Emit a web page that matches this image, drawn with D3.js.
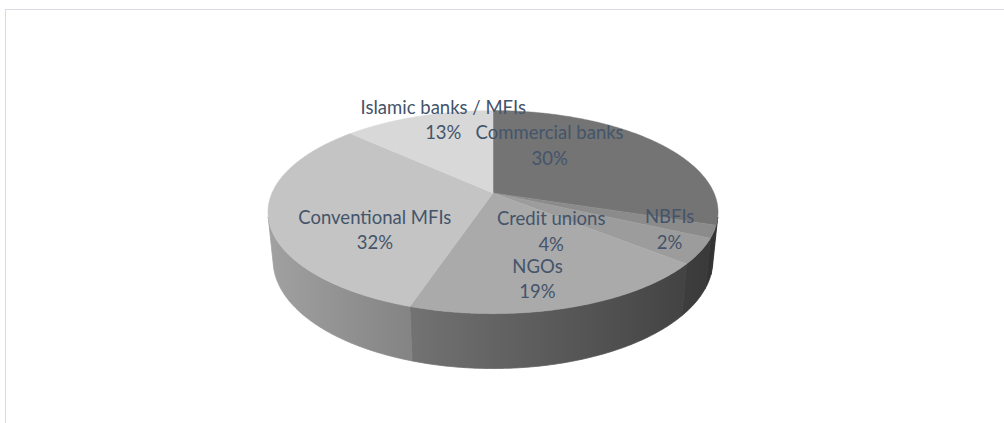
<!DOCTYPE html>
<html>
<head>
<meta charset="utf-8">
<script src="https://cdn.jsdelivr.net/npm/d3@7"></script>
<style>
  body { margin: 0; background: #fff; }
  svg { display: block; }
</style>
</head>
<body>
<script>
// data
const categories = ['Commercial banks', 'NBFIs', 'Credit unions', 'NGOs', 'Conventional MFIs', 'Islamic banks / MFIs'];
const shares = [30, 2, 4, 19, 32, 13];
const pctLabels = ['30%', '2%', '4%', '19%', '32%', '13%'];
const topColors = ['#747474', '#8b8b8b', '#9c9c9c', '#aaaaaa', '#c4c4c4', '#d8d8d8'];
// label nudges (px) from the projected slice middle, like dragged labels in the original
const labelNudge = [[-44, -15], [48, 14], [-61, 5], [3, 23], [14, 22], [-2, -24]];

const width = 1004, height = 423;

const svg = d3.select('body').append('svg')
  .attr('width', width)
  .attr('height', height);

// chart area border (runs off the right/bottom edge)
svg.append('rect')
  .attr('x', 5.5).attr('y', 9.5)
  .attr('width', width + 20).attr('height', height + 20)
  .attr('fill', 'none')
  .attr('stroke', '#d9dde3')
  .attr('stroke-width', 1);

// simple perspective camera for the 3D pie
const hub = { x: 493, y: 193 };
const tilt = 26.3 * Math.PI / 180;
const cosT = Math.cos(tilt), sinT = Math.sin(tilt);
const dist = 4.76;     // camera distance in pie radii
const focal = 1052;    // px
const depth = 0.245;   // thickness in pie radii

function project(theta, r, yy) {
  const X = r * Math.sin(theta), Z = r * Math.cos(theta);
  const yc = yy * cosT + Z * sinT;
  const zc = -yy * sinT + Z * cosT;
  const k = focal / (dist + zc);
  return [hub.x + X * k, hub.y - yc * k];
}

// side wall faces the camera where cos(theta) < -1/(dist*cos(tilt))
const visLimit = Math.acos(-1 / (dist * cosT));
const visStart = visLimit, visEnd = 2 * Math.PI - visLimit;

const pie = d3.pie().sort(null).value(d => d);
const arcs = pie(shares);

const line = d3.line();
const step = Math.PI / 360;

function arcPoints(a0, a1, yy) {
  const n = Math.max(2, Math.ceil((a1 - a0) / step));
  return d3.range(n + 1).map(i => project(a0 + (a1 - a0) * i / n, 1, yy));
}

// side shading: darker towards the right
const defs = svg.append('defs');
const x0 = hub.x - 226, x1 = hub.x + 226;
const shade = d3.scaleLinear().domain([x0, x1]).range([0.82, 0.36]);

arcs.forEach((a, i) => {
  const g = defs.append('linearGradient')
    .attr('id', 'side' + i)
    .attr('gradientUnits', 'userSpaceOnUse')
    .attr('x1', x0).attr('x2', x1).attr('y1', 0).attr('y2', 0);
  const base = d3.rgb(topColors[i]);
  d3.range(0, 1.0001, 0.25).forEach(t => {
    const m = shade(x0 + (x1 - x0) * t);
    g.append('stop')
      .attr('offset', t)
      .attr('stop-color', d3.rgb(base.r * m, base.g * m, base.b * m));
  });
});

const sides = svg.append('g');
arcs.forEach((a, i) => {
  const s = Math.max(a.startAngle, visStart);
  const e = Math.min(a.endAngle, visEnd);
  if (e <= s) return;
  const pts = arcPoints(s, e, 0).concat(arcPoints(s, e, -depth).reverse());
  sides.append('path')
    .attr('d', line(pts) + 'Z')
    .attr('fill', 'url(#side' + i + ')')
    .attr('stroke', 'url(#side' + i + ')')
    .attr('stroke-width', 0.8)
    .attr('stroke-linejoin', 'round');
});

const tops = svg.append('g');
arcs.forEach((a, i) => {
  const pts = [project(0, 0, 0)].concat(arcPoints(a.startAngle, a.endAngle, 0));
  tops.append('path')
    .attr('d', line(pts) + 'Z')
    .attr('fill', topColors[i])
    .attr('stroke', topColors[i])
    .attr('stroke-width', 0.5);
});

// data labels
const labels = svg.append('g')
  .attr('font-family', 'Lato, "Noto Sans", sans-serif')
  .attr('font-size', 18.5)
  .attr('fill', '#44546a')
  .attr('text-anchor', 'middle');

arcs.forEach((a, i) => {
  const mid = (a.startAngle + a.endAngle) / 2;
  const p = project(mid, 0.6, 0);
  const cx = p[0] + labelNudge[i][0], cy = p[1] + labelNudge[i][1];
  const t = labels.append('text').attr('x', cx).attr('y', cy);
  t.append('tspan').attr('x', cx).attr('y', cy - 12.7).attr('dy', '0.35em').text(categories[i]);
  t.append('tspan').attr('x', cx).attr('y', cy + 12.7).attr('dy', '0.35em').text(pctLabels[i]);
});
</script>
</body>
</html>
